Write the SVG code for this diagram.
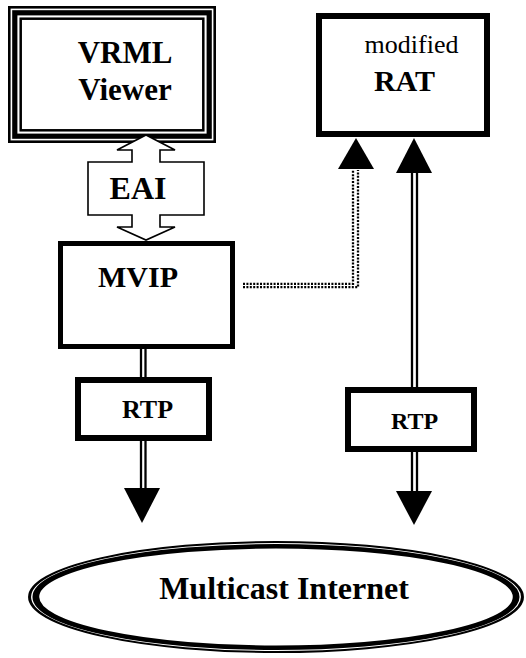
<svg xmlns="http://www.w3.org/2000/svg" width="526" height="658" viewBox="0 0 526 658">
  <style>
    .t { font-family: "Liberation Serif", "Times New Roman", serif; fill: #000; text-anchor: middle; }
    .b { font-weight: bold; }
    .box { fill: #fff; stroke: #000; }
    .rail { stroke: #000; stroke-width: 2.3; fill: none; }
    .dots { stroke: #000; stroke-width: 2.3; fill: none; stroke-dasharray: 2 1.4; }
    .head { fill: #000; stroke: none; }
  </style>
  <rect width="526" height="658" fill="#fff"/>

  <!-- VRML Viewer: thin-thick-thin frame -->
  <g id="vrml-viewer">
    <rect x="9.3" y="7.3" width="205.4" height="134.4" fill="#fff" stroke="#000" stroke-width="2.6"/>
    <rect x="14.8" y="12.8" width="194.4" height="123.4" fill="none" stroke="#000" stroke-width="5.2"/>
    <rect x="20.7" y="18.7" width="182.6" height="111.6" fill="none" stroke="#000" stroke-width="2.5"/>
    <text class="t b" x="125" y="63" font-size="31">VRML</text>
    <text class="t b" x="125" y="100" font-size="31">Viewer</text>
  </g>

  <!-- modified RAT -->
  <g id="rat">
    <rect class="box" x="319" y="16" width="168" height="118" stroke-width="6"/>
    <text class="t" x="411.5" y="53" font-size="26">modified</text>
    <text class="t b" x="404.5" y="91" font-size="30">RAT</text>
  </g>

  <!-- EAI double-headed block arrow -->
  <g id="eai">
    <polygon points="146,135 175,150 160,150 160,162 204,162 204,215 160,215 160,227 175,227 146,240 117,227 132,227 132,215 88,215 88,162 132,162 132,150 117,150" fill="#fff" stroke="#000" stroke-width="1.6" stroke-linejoin="miter"/>
    <text class="t b" x="138" y="199" font-size="32">EAI</text>
  </g>

  <!-- MVIP -->
  <g id="mvip">
    <rect class="box" x="60.5" y="243.5" width="172" height="103" stroke-width="5"/>
    <text class="t b" x="138" y="287" font-size="30">MVIP</text>
  </g>

  <!-- RTP (sender side) -->
  <g id="rtp-left">
    <rect class="box" x="78" y="380" width="131" height="58" stroke-width="6"/>
    <text class="t b" x="147.5" y="418" font-size="26">RTP</text>
  </g>

  <!-- RTP (RAT side) -->
  <g id="rtp-right">
    <rect class="box" x="348" y="390" width="126" height="59" stroke-width="6"/>
    <text class="t b" x="414.5" y="429" font-size="24">RTP</text>
  </g>

  <!-- Multicast Internet: outer thin ring plus thick ring -->
  <g id="multicast-internet">
    <g transform="translate(276,597) scale(1.5,1)">
      <ellipse cx="0" cy="0" rx="164.3" ry="55" fill="#fff" stroke="#000" stroke-width="2"/>
      <ellipse cx="0" cy="0" rx="160.1" ry="50.75" fill="none" stroke="#000" stroke-width="4.5"/>
    </g>
    <text class="t b" x="284" y="599" font-size="32">Multicast Internet</text>
  </g>

  <g id="connectors">
    <!-- MVIP to RAT control link (double dotted) -->
    <path class="dots" d="M243,283.8 H353 V170"/>
    <path class="dots" d="M243,287.2 H358 V170"/>
    <polygon class="head" points="356,138 374,169 338,169"/>

    <!-- MVIP -> RTP -> network -->
    <line class="rail" x1="141" y1="349" x2="141" y2="377"/>
    <line class="rail" x1="145.5" y1="349" x2="145.5" y2="377"/>
    <line class="rail" x1="141" y1="441" x2="141" y2="489"/>
    <line class="rail" x1="145.5" y1="441" x2="145.5" y2="489"/>
    <polygon class="head" points="124,488 160,488 142,523"/>

    <!-- network <-> RTP <-> RAT -->
    <line class="rail" x1="412" y1="172" x2="412" y2="387"/>
    <line class="rail" x1="417" y1="172" x2="417" y2="387"/>
    <polygon class="head" points="414,138 432,173 396,173"/>
    <line class="rail" x1="412" y1="452" x2="412" y2="492"/>
    <line class="rail" x1="417" y1="452" x2="417" y2="492"/>
    <polygon class="head" points="396,491 432,491 414,525"/>
  </g>
</svg>
